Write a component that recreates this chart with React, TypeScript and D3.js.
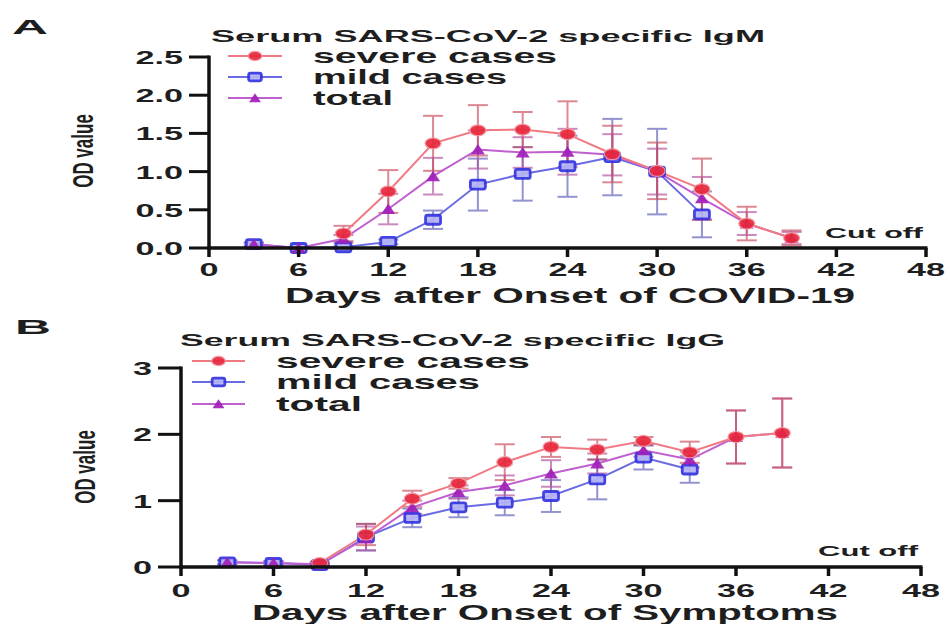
import React from "react";
import * as d3 from "d3";

// ---- data ----
const X_TICKS = [0, 6, 12, 18, 24, 30, 36, 42, 48];
const Y_TICKS_A = [0, 0.5, 1, 1.5, 2, 2.5];
const Y_TICKS_B = [0, 1, 2, 3];

// Panel A: IgM
const A_SEVERE_DAYS = [9, 12, 15, 18, 21, 24, 27, 30, 33, 36, 39];
const A_SEVERE = [0.19, 0.74, 1.37, 1.54, 1.55, 1.49, 1.23, 1.01, 0.77, 0.32, 0.13];
const A_SEVERE_ERR = [0.1, 0.28, 0.36, 0.33, 0.23, 0.43, 0.37, 0.37, 0.4, 0.22, 0.1];
const A_MILD_DAYS = [3, 6, 9, 12, 15, 18, 21, 24, 27, 30, 33];
const A_MILD = [0.05, 0.0, 0.01, 0.08, 0.37, 0.83, 0.97, 1.07, 1.19, 1.0, 0.44];
const A_MILD_ERR = [0.02, 0.01, 0.01, 0.03, 0.12, 0.34, 0.35, 0.4, 0.5, 0.56, 0.3];
const A_TOTAL_DAYS = [3, 6, 9, 12, 15, 18, 21, 24, 27, 30, 33, 36, 39];
const A_TOTAL = [0.05, 0.0, 0.12, 0.51, 0.94, 1.29, 1.25, 1.26, 1.22, 1.0, 0.65, 0.32, 0.13];
const A_TOTAL_ERR = [0.02, 0.01, 0.05, 0.2, 0.24, 0.25, 0.2, 0.3, 0.27, 0.3, 0.28, 0.15, 0.08];

// Panel B: IgG
const B_SEVERE_DAYS = [9, 12, 15, 18, 21, 24, 27, 30, 33, 36, 39];
const B_SEVERE = [0.06, 0.49, 1.03, 1.26, 1.58, 1.81, 1.77, 1.9, 1.73, 1.96, 2.02];
const B_SEVERE_ERR = [0.02, 0.16, 0.12, 0.08, 0.27, 0.15, 0.15, 0.06, 0.16, 0.4, 0.52];
const B_MILD_DAYS = [3, 6, 9, 12, 15, 18, 21, 24, 27, 30, 33];
const B_MILD = [0.07, 0.06, 0.03, 0.45, 0.74, 0.9, 0.97, 1.07, 1.32, 1.65, 1.47];
const B_MILD_ERR = [0.03, 0.03, 0.02, 0.2, 0.14, 0.15, 0.19, 0.24, 0.3, 0.18, 0.2];
const B_TOTAL_DAYS = [3, 6, 9, 12, 15, 18, 21, 24, 27, 30, 33, 36, 39];
const B_TOTAL = [0.07, 0.06, 0.04, 0.43, 0.9, 1.13, 1.23, 1.41, 1.56, 1.76, 1.62, 1.96, 2.02];
const B_TOTAL_ERR = [0.03, 0.03, 0.02, 0.18, 0.1, 0.1, 0.15, 0.2, 0.15, 0.1, 0.12, 0.4, 0.52];

const LEGEND = ["severe cases", "mild cases", "total"];

const FONT = "'Liberation Sans', Arial, sans-serif";
const STYLE = {
  severe: { line: "#f07a84", bar: "#c84a5c", fill: "#e8283c" },
  mild: { line: "#6a6ae4", bar: "#5a5ab8", fill: "#3434e0" },
  total: { line: "#c060d0", bar: "#b04c9c", fill: "#a020b8" },
};

type Kind = "severe" | "mild" | "total";

function Marker({ kind, cx, cy, s = 1 }: { kind: Kind; cx: number; cy: number; s?: number }) {
  if (kind === "severe")
    return <ellipse cx={cx} cy={cy} rx={8 * s} ry={5.5 * s} fill={STYLE.severe.fill} stroke="#f29aa2" strokeWidth={1.2} opacity={0.92} />;
  if (kind === "mild")
    return <rect x={cx - 7.5 * s} y={cy - 4.5 * s} width={15 * s} height={9 * s} rx={2} fill="#b4b4f6" stroke={STYLE.mild.fill} strokeWidth={2.8} opacity={0.92} />;
  return <polygon points={`${cx - 7 * s},${cy + 5 * s} ${cx + 7 * s},${cy + 5 * s} ${cx},${cy - 5.5 * s}`} fill={STYLE.total.fill} opacity={0.92} />;
}

function Stretch({ x, y, sx = 1.8, size = 19, anchor = "middle", children }: any) {
  return (
    <text transform={`translate(${x},${y}) scale(${sx},1)`} textAnchor={anchor}
      fontFamily={FONT} fontWeight="bold" fontSize={size} fill="#1e1e1e">{children}</text>
  );
}

function Fit({ x, y, len, size, children }: any) {
  return (
    <text x={x} y={y} textLength={len} lengthAdjust="spacingAndGlyphs"
      fontFamily={FONT} fontWeight="bold" fontSize={size} fill="#1e1e1e">{children}</text>
  );
}

function Panel({ p }: { p: any }) {
  const x = d3.scaleLinear().domain([0, 48]).range(p.xr);
  const y = d3.scaleLinear().domain([0, p.ymax]).range(p.yr);
  const series: { kind: Kind; days: number[]; v: number[]; e: number[] }[] = p.series;
  const line = d3.line<number>();
  const order: Kind[] = ["mild", "total", "severe"];
  const byKind = (k: Kind) => series.find(s => s.kind === k)!;

  return (
    <g>
      {/* error bars */}
      {order.map(k => {
        const s = byKind(k);
        return s.days.map((d, i) => {
          const cx = x(d), hi = y(s.v[i] + s.e[i]), lo = y(Math.max(0, s.v[i] - s.e[i]));
          return (
            <g key={k + d} stroke={STYLE[k].bar} strokeWidth={2} opacity={0.65}>
              <line x1={cx} x2={cx} y1={hi} y2={lo} />
              <line x1={cx - 10} x2={cx + 10} y1={hi} y2={hi} />
              <line x1={cx - 10} x2={cx + 10} y1={lo} y2={lo} />
            </g>
          );
        });
      })}
      {/* lines */}
      {order.map(k => {
        const s = byKind(k);
        const pts = s.days.map((d, i) => [x(d), y(s.v[i])] as [number, number]);
        return <path key={k} d={line(pts as any) || ""} fill="none" stroke={STYLE[k].line} strokeWidth={2} />;
      })}
      {/* markers */}
      {order.map(k => {
        const s = byKind(k);
        return s.days.map((d, i) => <Marker key={k + d} kind={k} cx={x(d)} cy={y(s.v[i])} />);
      })}

      {/* axes */}
      <line x1={x(0)} x2={x(0)} y1={y(0) + 2} y2={y(p.ymax) - 1.5} stroke="#111" strokeWidth={3.5} />
      <line x1={x(0) - 1.5} x2={x(48) + 1.5} y1={y(0)} y2={y(0)} stroke="#111" strokeWidth={3.5} />
      {p.yTicks.map((t: number) => (
        <g key={"y" + t}>
          <line x1={x(0) - p.ytl} x2={x(0)} y1={y(t)} y2={y(t)} stroke="#111" strokeWidth={3} />
          <Stretch x={x(0) - p.ytl - 6} y={y(t) + 7} anchor="end">{p.yFmt(t)}</Stretch>
        </g>
      ))}
      {X_TICKS.map(t => (
        <g key={"x" + t}>
          <line x1={x(t)} x2={x(t)} y1={y(0)} y2={y(0) + 9} stroke="#111" strokeWidth={3.5} />
          <Stretch x={x(t)} y={p.xLabY}>{t}</Stretch>
        </g>
      ))}

      {/* titles */}
      <Fit x={p.panel[0]} y={p.panel[1]} len={36} size={20}>{p.panel[2]}</Fit>
      <Fit x={p.title[0]} y={p.title[1]} len={p.title[2]} size={16}>{p.title[3]}</Fit>
      <Fit x={p.xTitle[0]} y={p.xTitle[1]} len={p.xTitle[2]} size={22}>{p.xTitle[3]}</Fit>
      <text transform={`translate(${p.yTitle[0]},${p.yTitle[1]}) scale(1.75,1) rotate(-90)`} textAnchor="middle"
        fontFamily={FONT} fontWeight="bold" fontSize={17} fill="#1e1e1e">OD value</text>
      <Fit x={p.cut[0]} y={p.cut[1]} len={p.cut[2]} size={14}>Cut off</Fit>

      {/* legend */}
      {(["severe", "mild", "total"] as Kind[]).map((k, i) => (
        <g key={"lg" + k}>
          <line x1={p.leg.x1} x2={p.leg.x2} y1={p.leg.ys[i]} y2={p.leg.ys[i]} stroke={STYLE[k].line} strokeWidth={2} />
          <Marker kind={k} cx={(p.leg.x1 + p.leg.x2) / 2} cy={p.leg.ys[i]} s={0.85} />
          <Fit x={p.leg.tx} y={p.leg.ys[i] + 7} len={p.leg.lens[i]} size={21}>{LEGEND[i]}</Fit>
        </g>
      ))}
    </g>
  );
}

const PANEL_A = {
  xr: [209, 926], yr: [248, 57], ymax: 2.5, yTicks: Y_TICKS_A, ytl: 20,
  yFmt: (t: number) => d3.format(".1f")(t), xLabY: 276,
  series: [
    { kind: "severe", days: A_SEVERE_DAYS, v: A_SEVERE, e: A_SEVERE_ERR },
    { kind: "mild", days: A_MILD_DAYS, v: A_MILD, e: A_MILD_ERR },
    { kind: "total", days: A_TOTAL_DAYS, v: A_TOTAL, e: A_TOTAL_ERR },
  ],
  panel: [12, 34, "A"],
  title: [211, 42, 554, "Serum SARS-CoV-2 specific IgM"],
  xTitle: [285, 303, 570, "Days after Onset of COVID-19"],
  yTitle: [93, 151],
  cut: [825, 238, 98],
  leg: { x1: 228, x2: 282, tx: 313, ys: [56, 77, 98], lens: [244, 194, 80] },
};

const PANEL_B = {
  xr: [181, 921], yr: [567, 368], ymax: 3, yTicks: Y_TICKS_B, ytl: 23,
  yFmt: (t: number) => String(t), xLabY: 597,
  series: [
    { kind: "severe", days: B_SEVERE_DAYS, v: B_SEVERE, e: B_SEVERE_ERR },
    { kind: "mild", days: B_MILD_DAYS, v: B_MILD, e: B_MILD_ERR },
    { kind: "total", days: B_TOTAL_DAYS, v: B_TOTAL, e: B_TOTAL_ERR },
  ],
  panel: [15, 334, "B"],
  title: [180, 346, 545, "Serum SARS-CoV-2 specific IgG"],
  xTitle: [252, 620, 586, "Days after Onset of Symptoms"],
  yTitle: [95, 467],
  cut: [818, 556, 100],
  leg: { x1: 192, x2: 245, tx: 276, ys: [361, 382, 404], lens: [254, 204, 86] },
};

export default function App() {
  return (
    <svg width={950} height={624} style={{ position: "absolute", left: 0, top: 0, background: "#fff" }}>
      <rect width={950} height={624} fill="#fff" />
      <Panel p={PANEL_A} />
      <Panel p={PANEL_B} />
    </svg>
  );
}
